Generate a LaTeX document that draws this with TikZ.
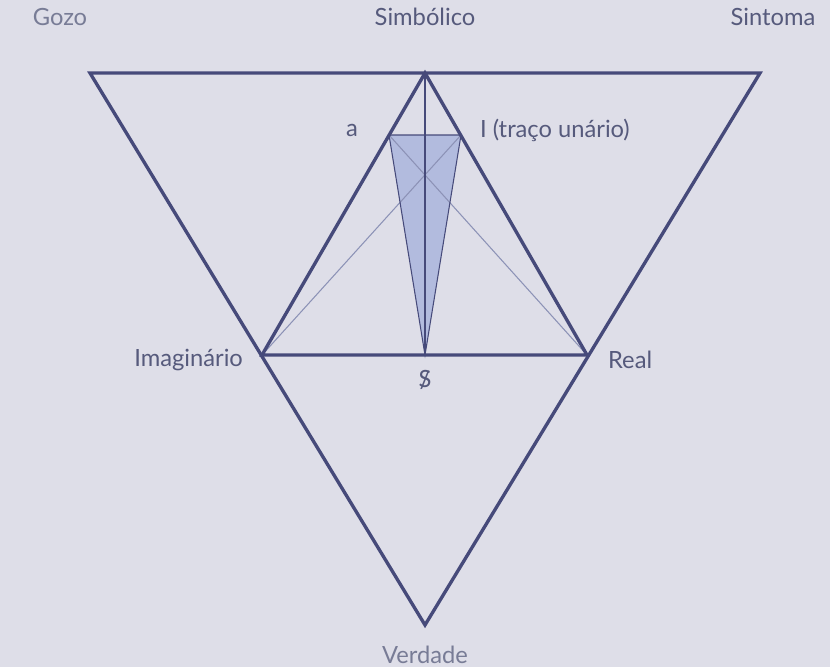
\documentclass[tikz,border=0pt]{standalone}
\usepackage{fontspec}
\setmainfont{Lato}
\usetikzlibrary{positioning}
\definecolor{bgPaper}{RGB}{222,222,232}
\definecolor{tInk}{RGB}{70,74,122}
\definecolor{tText}{RGB}{86,90,124}
\definecolor{tFaint}{RGB}{120,124,150}
\definecolor{tThin}{RGB}{140,146,182}
\definecolor{tShade}{RGB}{178,187,222}
\tikzset{
  thickline/.style={draw=tInk, line width=1.9pt, line join=miter},
  thinline/.style={draw=tInk, line width=0.6pt},
  faintline/.style={draw=tThin, line width=0.6pt},
  lbl/.style={font=\fontsize{13.5}{16}\selectfont, text=tText, inner sep=1pt},
}
\newcommand{\barS}{\ooalign{S\cr\hidewidth\raisebox{-0.15ex}{/}\hidewidth}}

\begin{document}
\begin{tikzpicture}[x=0.02cm, y=-0.02cm]
  \fill[bgPaper] (0,0) rectangle (830,667);
  % vertices
  \coordinate (gozo) at (90,73);
  \coordinate (sintoma) at (760,73);
  \coordinate (verdade) at (425,625);
  \coordinate (simb) at (425,73);
  \coordinate (imag) at (262,355);
  \coordinate (real) at (587,355);
  \coordinate (sbar) at (425,355);
  \coordinate (pa) at (389,135);
  \coordinate (pi) at (461,135);
  % shaded wedge
  \fill[tShade] (pa) -- (pi) -- (sbar) -- cycle;
  \draw[faintline] (imag) -- (pi);
  \draw[faintline] (real) -- (pa);
  \draw[thinline] (pa) -- (pi) -- (sbar) -- cycle;
  \draw[thinline] (simb) -- (sbar);
  % triangles
  \draw[thickline] (gozo) -- (sintoma) -- (verdade) -- cycle;
  \draw[thickline] (simb) -- (imag) -- (real) -- cycle;
  % labels
  \node[lbl, text=tFaint] (lgozo) at (60,17) {Gozo};
  \node[lbl] (lsimb) at (425,17) {Simbólico};
  \node[lbl] (lsint) at (773,17) {Sintoma};
  \node[lbl] (la) at (352,130) {a};
  \node[lbl, anchor=west] (li) at (478,130) {I (traço unário)};
  \node[lbl, anchor=east] (limag) at (245,360) {Imaginário};
  \node[lbl, anchor=west] (lreal) at (606,360) {Real};
  \node[lbl] (lsbar) at (425,380) {\barS};
  \node[lbl, text=tFaint] (lverd) at (425,655) {Verdade};
\end{tikzpicture}
\end{document}
